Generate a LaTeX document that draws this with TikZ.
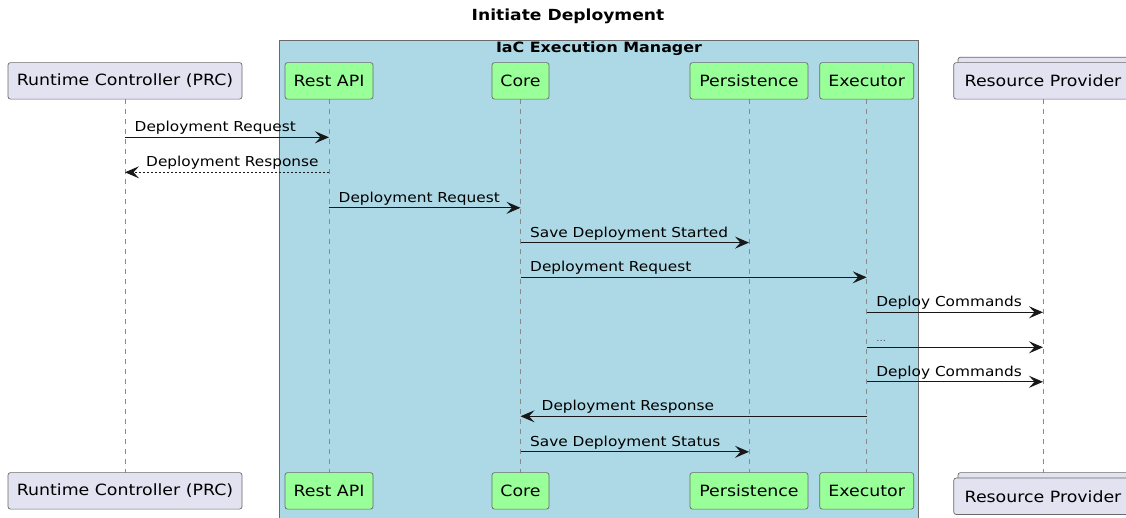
\documentclass[tikz,border=0pt]{standalone}
\usepackage{fontspec}
\setmainfont{DejaVu Sans}[FakeStretch=1.12]
\usetikzlibrary{arrows.meta}
\definecolor{partfill}{HTML}{E2E2F0}
\definecolor{greenfill}{HTML}{99FF99}
\definecolor{grpfill}{HTML}{ADD8E6}
\definecolor{linecol}{HTML}{181818}
\definecolor{bordercol}{HTML}{6A6A6A}
\definecolor{lifecol}{HTML}{8A8A8A}
\definecolor{dotscol}{HTML}{555555}
\begin{document}
\begin{tikzpicture}[x=1pt,y=-1pt,
  part/.style={draw=bordercol, line width=0.7pt, fill=partfill, rounded corners=2.5pt,
    minimum height=36.5pt, inner sep=0pt, text=black, font=\fontsize{15.5}{18}\selectfont},
  gpart/.style={part, fill=greenfill},
  lifeline/.style={draw=lifecol, line width=0.7pt, dash pattern=on 5pt off 5pt},
  msg/.style={draw=linecol, line width=1.2pt, -{Stealth[length=14pt,width=12pt,inset=5.5pt]}},
  resp/.style={msg, dash pattern=on 2pt off 2pt},
  lbl/.style={inner sep=0pt, anchor=base west, text=black, font=\fontsize{13.7}{16}\selectfont},
  ttl/.style={inner sep=0pt, text=black, font=\bfseries\fontsize{15.3}{18}\selectfont},
  gttl/.style={ttl, font=\bfseries\fontsize{14.2}{17}\selectfont}
]
\useasboundingbox (0,0) rectangle (1126,517);
\fill[white] (0,0) rectangle (1126,517);

% title
\node[ttl] (title) at (568,16) {Initiate Deployment};

% group box
\draw[fill=grpfill, draw=bordercol, line width=0.8pt] (279.6,40) rectangle (918,530);
\node[gttl] (grptitle) at (599,48.5) {IaC Execution Manager};

% lifeline positions (coordinates)
\coordinate (rcX) at (125,0);
\coordinate (apiX) at (329,0);
\coordinate (coreX) at (520.5,0);
\coordinate (perX) at (749,0);
\coordinate (exeX) at (866.7,0);
\coordinate (rpX) at (1043,0);

% lifelines
\foreach \p in {rcX,apiX,coreX,perX,exeX,rpX}{
  \draw[lifeline] (\p |- 0,99) -- (\p |- 0,472.7);
}

% top participants
\node[part, minimum width=234pt] (rcT) at (rcX |- 0,80.85) {Runtime Controller (PRC)};
\node[gpart, minimum width=88pt] (apiT) at (apiX |- 0,80.85) {Rest API};
\node[gpart, minimum width=57pt] (coreT) at (coreX |- 0,80.85) {Core};
\node[gpart, minimum width=118pt] (perT) at (perX |- 0,80.85) {Persistence};
\node[gpart, minimum width=94pt] (exeT) at (exeX |- 0,80.85) {Executor};
\node[part, minimum width=178.6pt] (rpTback) at (1047.3,75.45) {};
\node[part, minimum width=178.6pt] (rpT) at (rpX |- 0,80.85) {Resource Provider};

% bottom participants
\node[part, minimum width=234pt] (rcB) at (rcX |- 0,490.85) {Runtime Controller (PRC)};
\node[gpart, minimum width=88pt] (apiB) at (apiX |- 0,490.85) {Rest API};
\node[gpart, minimum width=57pt] (coreB) at (coreX |- 0,490.85) {Core};
\node[gpart, minimum width=118pt] (perB) at (perX |- 0,490.85) {Persistence};
\node[gpart, minimum width=94pt] (exeB) at (exeX |- 0,490.85) {Executor};
\node[part, minimum width=178.6pt] (rpBback) at (1047.3,490.85) {};
\node[part, minimum width=178.6pt] (rpB) at (rpX |- 0,496.25) {Resource Provider};

% messages
\draw[msg] (rcT |- 0,137.3) coordinate (m1) -- (apiT |- 0,137.3);
\node[lbl] at ([xshift=9.5pt,yshift=5.6pt]m1) {Deployment Request};

\draw[resp] (apiT |- 0,172.3) -- (rcT |- 0,172.3) coordinate (m2);
\node[lbl] at ([xshift=21pt,yshift=5.6pt]m2) {Deployment Response};

\draw[msg] (apiT |- 0,207.8) coordinate (m3) -- (coreT |- 0,207.8);
\node[lbl] at ([xshift=9.5pt,yshift=5.6pt]m3) {Deployment Request};

\draw[msg] (coreT |- 0,242.6) coordinate (m4) -- (perT |- 0,242.6);
\node[lbl] at ([xshift=9.5pt,yshift=5.6pt]m4) {Save Deployment Started};

\draw[msg] (coreT |- 0,277.3) coordinate (m5) -- (exeT |- 0,277.3);
\node[lbl] at ([xshift=9.5pt,yshift=5.6pt]m5) {Deployment Request};

\draw[msg] (exeT |- 0,312.3) coordinate (m6) -- (rpT |- 0,312.3);
\node[lbl] at ([xshift=9.5pt,yshift=5.6pt]m6) {Deploy Commands};

\draw[msg] (exeT |- 0,347.3) coordinate (m7) -- (rpT |- 0,347.3);
\node[lbl, text=dotscol, font=\fontsize{9}{11}\selectfont] at ([xshift=9.5pt,yshift=5.6pt]m7) {...};

\draw[msg] (exeT |- 0,381.8) coordinate (m8) -- (rpT |- 0,381.8);
\node[lbl] at ([xshift=9.5pt,yshift=5.6pt]m8) {Deploy Commands};

\draw[msg] (exeT |- 0,416.3) -- (coreT |- 0,416.3) coordinate (m9);
\node[lbl] at ([xshift=21pt,yshift=5.6pt]m9) {Deployment Response};

\draw[msg] (coreT |- 0,451.8) coordinate (m10) -- (perT |- 0,451.8);
\node[lbl] at ([xshift=9.5pt,yshift=5.6pt]m10) {Save Deployment Status};
\end{tikzpicture}
\end{document}
